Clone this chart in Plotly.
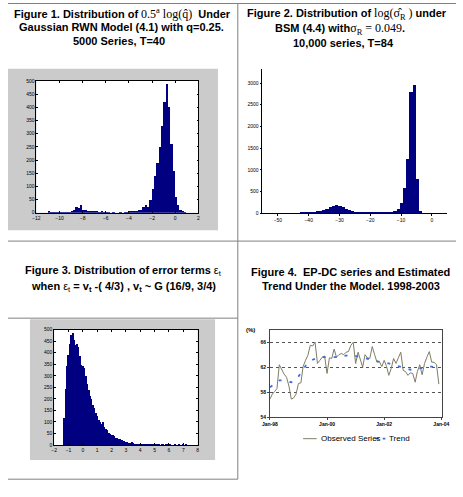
import numpy as np
import pandas as pd
import plotly.graph_objects as go

W, H = 463, 497

# ---------------- data ----------------
# Figure 1: histogram of 0.5^a log(q_hat)
fig1_first_bin = -10.9
fig1_bin_width = 0.2
fig1_counts = [3, 1, 1, 2, 1, 2, 1, 1, 1, 2,
               4, 10, 22, 18, 28, 12, 9, 8, 5, 4,
               3, 4, 2, 3, 1, 2, 1, 0, 1, 0,
               0, 1, 0, 1, 2, 3, 4, 5, 8, 10,
               10, 22, 30, 22, 50, 90, 140, 190, 250, 330,
               420, 490, 400, 260, 160, 60, 28, 10, 3, 1]

# Figure 2: histogram of log(sigma_R hat)
fig2_first_bin = -42.3
fig2_bin_width = 1.05
fig2_counts = [1, 2, 4, 8, 14, 24, 40, 62, 95, 130,
               165, 175, 160, 130, 95, 60, 32, 16, 8, 4,
               2, 2, 1, 1, 2, 3, 5, 8, 15, 40,
               100, 240, 570, 1240, 2780, 2960, 780, 25]

# Figure 3: histogram of error terms
fig3_first_bin = -1.28
fig3_bin_width = 0.1
fig3_counts = [118, 245, 345, 390, 440, 480, 485, 455, 435, 440,
               425, 385, 350, 345, 335, 300, 265, 240, 215, 200,
               175, 160, 140, 125, 110, 100, 92, 100, 80, 70,
               68, 55, 50, 45, 46, 38, 32, 30, 28, 25,
               22, 20, 17, 15, 12, 10, 9, 12, 8, 7,
               6, 5, 5, 4, 3, 4, 3, 2, 2, 3,
               2, 1, 2, 1, 1, 2, 1, 0, 1, 1,
               0, 1, 1, 0, 1, 0, 0, 1, 0, 0,
               1, 0, 0, 1, 0, 1]

# Figure 4: EP-DC series and trend (monthly, Jan-98 .. Dec-03)
fig4_start = "1998-01-01"
fig4_observed = [56.9, 57.7, 58.1, 58.6, 62.4, 61.5, 60.9, 60.4, 59.0, 56.9, 57.1, 57.7,
                 59.4, 59.5, 62.1, 63.1, 63.9, 65.5, 65.4, 66.0, 62.6, 63.1, 63.6, 63.8,
                 61.0, 63.5, 63.4, 64.9, 63.6, 64.0, 64.2, 64.0, 64.4, 64.5, 65.5, 66.0,
                 62.6, 64.4, 63.1, 62.0, 64.0, 63.5, 63.4, 65.3, 64.0, 62.8, 62.9, 62.1,
                 63.1, 62.1, 60.7, 61.8, 63.4, 62.6, 63.5, 64.4, 61.5, 61.3, 60.7, 61.1,
                 61.0, 59.6, 61.3, 62.4, 60.8, 62.6, 63.6, 64.5, 62.8, 62.8, 62.4, 59.3]
fig4_trend = [58.8, 59.0, 59.3, 59.7, 59.9, 59.9, 59.8, 59.7, 59.6, 59.6, 59.8, 60.0,
              60.5, 61.0, 61.6, 62.2, 62.6, 63.0, 63.2, 63.4, 63.5, 63.6, 63.6, 63.6,
              63.6, 63.5, 63.5, 63.5, 63.5, 63.6, 63.7, 63.8, 63.9, 64.0, 64.0, 63.9,
              63.8, 63.7, 63.6, 63.5, 63.4, 63.3, 63.2, 63.1, 63.0, 62.9, 62.8, 62.7,
              62.7, 62.6, 62.6, 62.5, 62.4, 62.3, 62.2, 62.1, 61.9, 61.8, 61.7, 61.6,
              61.7, 61.8, 61.8, 61.8, 61.9, 61.9, 62.0, 62.1, 62.1, 62.0, 62.0, 62.0]
fig4_tick_dates = ["1998-01-01", "2000-01-01", "2002-01-01", "2004-01-01"]
fig4_tick_labels = ["Jan-98", "Jan-00", "Jan-02", "Jan-04"]
fig4_y_ticks = [54, 58, 62, 66]


def centers(first, width, n):
    return first + width * np.arange(n)


def px(x):
    return x / W


def py(y):
    return 1 - y / H


NAVY = "#000080"
SANS = "Liberation Sans"
SERIF = "Liberation Serif"
OLIVE = "#7f7c66"
BLUE = "#3d6fd8"

fig = go.Figure()

fig.add_trace(go.Bar(x=centers(fig1_first_bin, fig1_bin_width, len(fig1_counts)), y=fig1_counts,
                     width=fig1_bin_width, marker=dict(color=NAVY, line=dict(width=0)),
                     xaxis="x", yaxis="y"))
fig.add_trace(go.Bar(x=centers(fig2_first_bin, fig2_bin_width, len(fig2_counts)), y=fig2_counts,
                     width=fig2_bin_width, marker=dict(color=NAVY, line=dict(width=0)),
                     xaxis="x2", yaxis="y2"))
fig.add_trace(go.Bar(x=centers(fig3_first_bin, fig3_bin_width, len(fig3_counts)), y=fig3_counts,
                     width=fig3_bin_width, marker=dict(color=NAVY, line=dict(width=0)),
                     xaxis="x3", yaxis="y3"))

months = pd.date_range(fig4_start, periods=len(fig4_observed), freq="MS")
fig.add_trace(go.Scatter(x=months, y=fig4_observed, mode="lines",
                         line=dict(color=OLIVE, width=1), xaxis="x4", yaxis="y4"))
fig.add_trace(go.Scatter(x=months, y=fig4_trend, mode="lines",
                         line=dict(color=BLUE, width=1.8, dash="3px,8px"), xaxis="x4", yaxis="y4"))

tickfont = dict(family=SANS, size=5, color="black")
matlab = dict(showline=True, linecolor="black", linewidth=0.6, mirror="ticks", ticks="inside",
              ticklen=2, tickwidth=0.6, tickcolor="black", showgrid=False, zeroline=False,
              tickfont=tickfont, fixedrange=True)
outer = dict(showline=True, linecolor="black", linewidth=0.8, mirror=False, ticks="outside",
             ticklen=2, tickwidth=0.6, tickcolor="black", showgrid=False, zeroline=False,
             tickfont=dict(family=SANS, size=5, color="black"))

fig.update_layout(
    width=W, height=H, autosize=False,
    margin=dict(l=0, r=0, t=0, b=0, pad=0),
    paper_bgcolor="white", plot_bgcolor="rgba(0,0,0,0)",
    showlegend=False, bargap=0,
    xaxis=dict(domain=[px(29.3), px(196.7)], range=[-12, 2], dtick=2, tick0=-12, anchor="y", **matlab),
    yaxis=dict(domain=[py(212.3), py(79)], range=[0, 500], dtick=50, tick0=0, anchor="x", **matlab),
    xaxis2=dict(domain=[px(263), px(454)], range=[-55, 5], dtick=10, tick0=0, anchor="y2", **outer),
    yaxis2=dict(domain=[py(212.7), py(67)], range=[0, 3320], dtick=500, tick0=0, anchor="x2", **outer),
    xaxis3=dict(domain=[px(47.7), px(196)], range=[-2, 8], dtick=1, tick0=-2, anchor="y3", **matlab),
    yaxis3=dict(domain=[py(447.3), py(330.7)], range=[0, 500], dtick=50, tick0=0, anchor="x3", **matlab),
    xaxis4=dict(domain=[px(270.7), px(449)], type="date", range=["1998-01-01", "2004-01-16"],
                tickvals=fig4_tick_dates, ticktext=fig4_tick_labels, anchor="y4",
                showline=True, linecolor="#444444", linewidth=0.8, mirror=True, ticks="outside",
                ticklen=2, tickcolor="#444444", showgrid=False, zeroline=False,
                tickfont=dict(family=SANS, size=5, color="black", weight="bold")),
    yaxis4=dict(domain=[py(419.3), py(330.7)], range=[54, 68], tickvals=fig4_y_ticks, anchor="x4",
                showline=True, linecolor="#444444", linewidth=0.8, mirror=True, ticks="outside",
                ticklen=2, tickcolor="#444444", showgrid=True, gridcolor="#555555", gridwidth=0.8,
                griddash="dot", zeroline=False,
                tickfont=dict(family=SANS, size=5, color="black", weight="bold")),
)

shapes = []
GRAY = "#cbcbcb"


def rect(x0, y0, x1, y1, color):
    shapes.append(dict(type="rect", xref="paper", yref="paper", x0=px(x0), x1=px(x1),
                       y0=py(y1), y1=py(y0), fillcolor=color, line=dict(width=0), layer="below"))


def hline(x0, x1, y, color="#808080", width=1, dash="solid"):
    shapes.append(dict(type="line", xref="paper", yref="paper", x0=px(x0), x1=px(x1),
                       y0=py(y), y1=py(y), line=dict(color=color, width=width, dash=dash), layer="above"))


def vline(x, y0, y1, color="#808080", width=1):
    shapes.append(dict(type="line", xref="paper", yref="paper", x0=px(x), x1=px(x),
                       y0=py(y0), y1=py(y1), line=dict(color=color, width=width), layer="above"))


rect(0, 66.5, 217, 230, GRAY)
rect(29.3, 79, 196.7, 212.3, "white")
rect(22.7, 320, 214, 462.7, GRAY)
rect(47.7, 330.7, 196, 447.3, "white")

# table borders
hline(0, W, 0.5)
vline(237.5, 0, 482)
hline(0, W, 241)
hline(0, 237.5, 319)
hline(0, 237.5, 482)

# figure 4 legend samples
hline(305, 319, 441, color=OLIVE, width=1)
hline(380, 390, 441, color=BLUE, width=1.8, dash="3px,4px")

fig.update_layout(shapes=shapes)

annotations = []


def ann(text, x, y, size=11, bold=True, xanchor="center", family=SANS):
    annotations.append(dict(text=text, x=px(x), y=py(y), xref="paper", yref="paper",
                            xanchor=xanchor, yanchor="middle", showarrow=False,
                            font=dict(family=family, size=size, color="black",
                                      weight="bold" if bold else "normal")))


MATH = "font-family:Liberation Serif;font-weight:normal;font-size:12px"

ann("Figure 1. Distribution of <span style='%s'>0.5<sup>a</sup> log(q&#770;)</span>  Under" % MATH, 118, 11)
ann("Gaussian RWN Model (4.1) with q=0.25.", 117, 24.5)
ann("5000 Series, T=40", 115, 38)

ann("Figure 2. Distribution of <span style='%s'>log(&#963;&#770;<sub>R</sub> )</span> under" % MATH, 350, 11)
ann("BSM (4.4) with<span style='%s'>&#963;<sub>R</sub> = 0.049</span>." % MATH, 343, 26)
ann("10,000 series, T=84", 347, 40)

ann("Figure 3. Distribution of error terms <span style='font-weight:normal'>&#949;<sub>t</sub></span>", 119, 271)
ann("when <span style='font-weight:normal'>&#949;<sub>t</sub></span> = v<sub>t</sub> -( 4/3) , v<sub>t</sub> ~ G (16/9, 3/4)", 119, 287)

ann("Figure 4.  EP-DC series and Estimated", 354, 272)
ann("Trend Under the Model. 1998-2003", 354, 286)

ann("(%)", 251, 331, size=6, bold=True)
ann("Observed Series", 321, 441, size=8, bold=False, xanchor="left")
ann("Trend", 392, 441, size=8, bold=False, xanchor="left")

fig.update_layout(annotations=annotations)

fig.write_html("out.html")
